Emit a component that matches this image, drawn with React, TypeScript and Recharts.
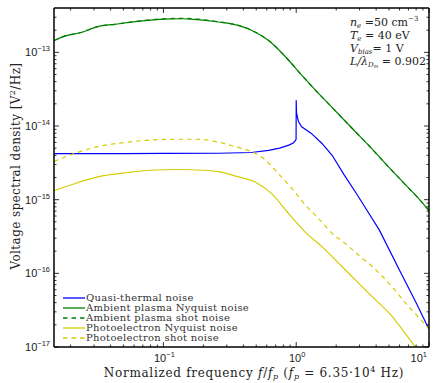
import { LineChart, Line, XAxis, YAxis, Legend } from "recharts";

const W = 437;
const H = 383;

// normalized frequency f/fp for each curve, and the PSD values [V^2/Hz]
const qtnFreq = [0.015, 0.05, 0.1, 0.26, 0.46, 0.62, 0.75, 0.88, 0.95, 0.985, 0.998, 1.0, 1.005, 1.04, 1.1, 1.3, 1.57, 1.87, 2.29, 2.8, 3.4, 4.22, 6, 8, 10];
const qtnPsd = [4.22e-15, 4.22e-15, 4.24e-15, 4.27e-15, 4.37e-15, 4.68e-15, 5.01e-15, 5.5e-15, 5.89e-15, 6.31e-15, 6.61e-15, 2.24e-14, 1.51e-14, 1.15e-14, 9.77e-15, 7.94e-15, 5.75e-15, 3.98e-15, 2.19e-15, 1.26e-15, 7.24e-16, 3.89e-16, 1.1e-16, 3.98e-17, 1.74e-17];

const ambFreq = [0.015, 0.018, 0.024, 0.032, 0.043, 0.057, 0.076, 0.1, 0.14, 0.18, 0.26, 0.36, 0.46, 0.62, 0.83, 1.1, 1.4, 1.8, 2.6, 3.5, 4.7, 6.5, 8.5, 10];
const ambNyqPsd = [1.445e-13, 1.66e-13, 1.86e-13, 2.24e-13, 2.4e-13, 2.57e-13, 2.72e-13, 2.82e-13, 2.86e-13, 2.78e-13, 2.58e-13, 2.34e-13, 2.0e-13, 1.445e-13, 8.71e-14, 4.9e-14, 3.05e-14, 1.905e-14, 9.55e-15, 5.5e-15, 3.09e-15, 1.66e-15, 1.0e-15, 7.08e-16];
const ambShotPsd = [1.445e-13, 1.66e-13, 1.86e-13, 2.24e-13, 2.4e-13, 2.57e-13, 2.74e-13, 2.85e-13, 2.9e-13, 2.82e-13, 2.6e-13, 2.35e-13, 2.0e-13, 1.445e-13, 8.71e-14, 4.9e-14, 3.05e-14, 1.905e-14, 9.55e-15, 5.5e-15, 3.09e-15, 1.66e-15, 1.0e-15, 7.08e-16];

const phNyqFreq = [0.015, 0.0225, 0.032, 0.054, 0.08, 0.13, 0.2, 0.26, 0.367, 0.49, 0.656, 0.877, 1.17, 1.57, 2.22, 3.75, 5.02, 7.9, 10];
const phNyqPsd = [1.32e-15, 1.7e-15, 2.04e-15, 2.34e-15, 2.51e-15, 2.57e-15, 2.51e-15, 2.4e-15, 2.04e-15, 1.74e-15, 1.2e-15, 6.46e-16, 3.63e-16, 2.29e-16, 1.23e-16, 4.79e-17, 2.88e-17, 1.0e-17, 5.9e-18];

const phShotFreq = [0.015, 0.0225, 0.032, 0.054, 0.08, 0.13, 0.18, 0.26, 0.347, 0.463, 0.585, 0.737, 0.93, 1.17, 1.48, 1.87, 2.36, 2.97, 3.75, 5.02, 6.72, 8.97, 10];
const phShotPsd = [3.31e-15, 4.37e-15, 5.25e-15, 6.03e-15, 6.46e-15, 6.61e-15, 6.61e-15, 6.03e-15, 5.25e-15, 4.47e-15, 3.47e-15, 2.24e-15, 1.41e-15, 8.51e-16, 5.5e-16, 3.47e-16, 2.51e-16, 1.74e-16, 1.23e-16, 7.24e-17, 3.89e-17, 2.19e-17, 1.74e-17];

const xMajor = [0.1, 1, 10];
const yMajor = [1e-17, 1e-16, 1e-15, 1e-14, 1e-13];
const minorSteps = [2, 3, 4, 5, 6, 7, 8, 9];
const xTicks = [...xMajor, ...[-2, -1, 0].flatMap((d) => minorSteps.map((k) => k * 10 ** d))]
  .filter((v) => v > 0.015)
  .sort((a, b) => a - b);
const yTicks = [...yMajor, ...[-17, -16, -15, -14, -13].flatMap((d) => minorSteps.map((k) => k * 10 ** d))]
  .filter((v) => v < 4e-13)
  .sort((a, b) => a - b);

const rows = (f: number[], v: number[]) => f.map((x, i) => ({ f: x, v: v[i] }));

const series = [
  { name: "Quasi-thermal noise", data: rows(qtnFreq, qtnPsd), color: "#0000ff", dash: undefined, curve: "linear" },
  { name: "Ambient plasma Nyquist noise", data: rows(ambFreq, ambNyqPsd), color: "#008000", dash: undefined, curve: "monotone" },
  { name: "Ambient plasma shot noise", data: rows(ambFreq, ambShotPsd), color: "#008000", dash: "4.5 4", curve: "monotone" },
  { name: "Photoelectron Nyquist noise", data: rows(phNyqFreq, phNyqPsd), color: "#d4cc00", dash: undefined, curve: "monotone" },
  { name: "Photoelectron shot noise", data: rows(phShotFreq, phShotPsd), color: "#d4cc00", dash: "4.5 4", curve: "monotone" },
];

const isMajor = (v: number) => Math.abs(Math.log10(v) - Math.round(Math.log10(v))) < 1e-6;
const expLabel = (v: number) => {
  const e = Math.round(Math.log10(v));
  return e < 0 ? `\u2212${-e}` : `${e}`;
};

const tickFont = { fontFamily: "Liberation Sans, Arial, sans-serif", fill: "#222" };

const BottomTick = ({ x, y, payload }: any) => {
  const v = payload.value;
  const major = isMajor(v);
  const last = v >= 10;
  return (
    <g>
      <line x1={x} x2={x} y1={y} y2={y - (major ? 5 : 2.5)} stroke="#000" strokeWidth={0.8} />
      {major && (
        <text x={last ? x - 2 : x + 1} y={y + 15} textAnchor={last ? "end" : "middle"} fontSize={11} {...tickFont}>
          10<tspan fontSize={7.5} dy={-5}>{expLabel(v)}</tspan>
        </text>
      )}
    </g>
  );
};

const TopTick = ({ x, y, payload }: any) => (
  <line x1={x} x2={x} y1={y} y2={y + (isMajor(payload.value) ? 5 : 2.5)} stroke="#000" strokeWidth={0.8} />
);

const LeftTick = ({ x, y, payload }: any) => {
  const v = payload.value;
  const major = isMajor(v);
  return (
    <g>
      <line x1={x} x2={x + (major ? 5 : 2.5)} y1={y} y2={y} stroke="#000" strokeWidth={0.8} />
      {major && (
        <text x={x - 4} y={y + 4} textAnchor="end" fontSize={11} {...tickFont}>
          10<tspan fontSize={7.5} dy={-5}>{expLabel(v)}</tspan>
        </text>
      )}
    </g>
  );
};

const RightTick = ({ x, y, payload }: any) => (
  <line x1={x} x2={x - (isMajor(payload.value) ? 5 : 2.5)} y1={y} y2={y} stroke="#000" strokeWidth={0.8} />
);

const NoiseLegend = () => (
  <div style={{ fontFamily: "DejaVu Serif, serif", fontSize: 10, lineHeight: "10px", color: "#333" }}>
    {series.map((s) => (
      <div key={s.name} style={{ display: "flex", alignItems: "center", height: 10, whiteSpace: "nowrap" }}>
        <svg width={24} height={10}>
          <line x1={1} x2={23} y1={5} y2={5} stroke={s.color} strokeWidth={1.3} strokeDasharray={s.dash} />
        </svg>
        <span style={{ letterSpacing: 0.3 }}>{s.name}</span>
      </div>
    ))}
  </div>
);

export default function App() {
  const axisLine = { stroke: "#000", strokeWidth: 1.5 };
  return (
    <div style={{ position: "absolute", left: 0, top: 0, width: W, height: H, background: "#fff" }}>
      <LineChart width={W} height={H} margin={{ top: 8, right: 8, bottom: 0, left: 0 }}>
        <XAxis xAxisId="x" dataKey="f" type="number" scale="log" domain={[0.015, 10]} allowDataOverflow
          ticks={xTicks} interval={0} tick={<BottomTick />} tickLine={false} tickSize={0} tickMargin={0}
          axisLine={axisLine} height={36} />
        <XAxis xAxisId="top" dataKey="f" orientation="top" mirror type="number" scale="log" domain={[0.015, 10]} allowDataOverflow
          ticks={xTicks} interval={0} tick={<TopTick />} tickLine={false} tickSize={0} tickMargin={0}
          axisLine={axisLine} />
        <YAxis yAxisId="y" type="number" scale="log" domain={[1e-17, 4e-13]} allowDataOverflow
          ticks={yTicks} interval={0} tick={<LeftTick />} tickLine={false} tickSize={0} tickMargin={0}
          axisLine={axisLine} width={54} />
        <YAxis yAxisId="right" orientation="right" mirror type="number" scale="log" domain={[1e-17, 4e-13]} allowDataOverflow
          ticks={yTicks} interval={0} tick={<RightTick />} tickLine={false} tickSize={0} tickMargin={0}
          axisLine={axisLine} />
        {/* keeps the box axes tied to data */}
        <Line data={series[4].data} xAxisId="top" yAxisId="right" dataKey="v" stroke="none" dot={false}
          activeDot={false} legendType="none" isAnimationActive={false} />
        {series.map((s) => (
          <Line key={s.name} data={s.data} xAxisId="x" yAxisId="y" dataKey="v" name={s.name}
            type={s.curve as any} stroke={s.color} strokeWidth={1.2} strokeDasharray={s.dash}
            dot={false} activeDot={false} isAnimationActive={false} />
        ))}
        <Legend layout="vertical" align="center" verticalAlign="middle" content={<NoiseLegend />}
          wrapperStyle={{ left: 62, top: 293, width: 200 }} />
      </LineChart>
      <svg width={W} height={H} style={{ position: "absolute", left: 0, top: 0, pointerEvents: "none" }}
        fontFamily="DejaVu Serif, serif" fill="#222">
        <g fontSize={11}>
          <text x={350} y={26}>
            <tspan fontStyle="italic">n</tspan><tspan fontSize={7} fontStyle="italic" dy={2}>e</tspan>
            <tspan dy={-2}> =50 cm</tspan><tspan fontSize={7} dy={-5}>{"\u22123"}</tspan>
          </text>
          <text x={350} y={39}>
            <tspan fontStyle="italic">T</tspan><tspan fontSize={7} fontStyle="italic" dy={2}>e</tspan>
            <tspan dy={-2}> = 40 eV</tspan>
          </text>
          <text x={350} y={52}>
            <tspan fontStyle="italic">V</tspan><tspan fontSize={7} fontStyle="italic" dy={2}>bias</tspan>
            <tspan dy={-2}>= 1 V</tspan>
          </text>
          <text x={350} y={65}>
            <tspan fontStyle="italic">L/λ</tspan><tspan fontSize={7} fontStyle="italic" dy={2}>D</tspan>
            <tspan fontSize={5} fontStyle="italic" dy={1}>m</tspan>
            <tspan dy={-3}> = 0.902</tspan>
          </text>
        </g>
        <text x={254} y={377} textAnchor="middle" fontSize={12} letterSpacing={0.7}>
          Normalized frequency <tspan fontStyle="italic">f</tspan>/<tspan fontStyle="italic">f</tspan>
          <tspan fontSize={8} fontStyle="italic" dy={2}>p</tspan>
          <tspan dy={-2}> (</tspan><tspan fontStyle="italic">f</tspan>
          <tspan fontSize={8} fontStyle="italic" dy={2}>p</tspan>
          <tspan dy={-2}> = 6.35·10</tspan><tspan fontSize={8} dy={-5}>4</tspan>
          <tspan dy={5}> Hz)</tspan>
        </text>
        <text transform="translate(20,166) rotate(-90)" textAnchor="middle" fontSize={12} letterSpacing={0.4}>
          Voltage spectral density [V<tspan fontSize={8} dy={-5}>2</tspan><tspan dy={5}>/Hz]</tspan>
        </text>
      </svg>
    </div>
  );
}
